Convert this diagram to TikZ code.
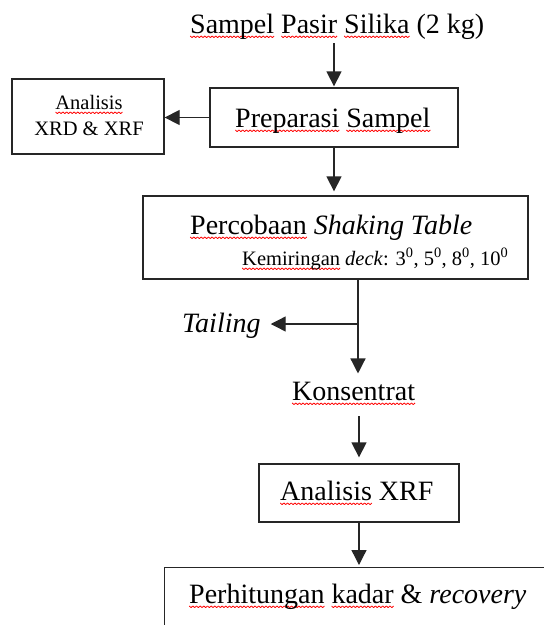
\documentclass[tikz,border=0pt]{standalone}
\usepackage{fontspec}
\setmainfont{Liberation Serif}
\usetikzlibrary{arrows.meta}
\newsavebox\sqbox
\AtBeginDocument{\sbox\sqbox{\begin{pgfpicture}%
\pgfpathrectangle{\pgfpointorigin}{\pgfpoint{3.6pt}{0pt}}\pgfusepath{use as bounding box}%
\pgfsetlinewidth{0.8pt}\pgfsetstrokecolor{red}\pgfsetroundjoin
\pgfpathmoveto{\pgfpointorigin}\pgfpathlineto{\pgfpoint{1.8pt}{-1.6pt}}\pgfpathlineto{\pgfpoint{3.6pt}{0pt}}\pgfusepath{stroke}%
\end{pgfpicture}}}
\newcommand\sqw[1]{\setbox0\hbox{#1}\rlap{\raisebox{-3pt}{\hbox to \wd0{\xleaders\copy\sqbox\hfil}}}\box0 }
\tikzset{
  big/.style={font=\fontsize{28}{32}\selectfont, inner sep=0pt, anchor=base west},
  small/.style={font=\fontsize{20.5}{24}\selectfont, inner sep=0pt},
  box/.style={draw=black!85, line width=1.3pt, inner sep=0pt},
  arr/.style={-{Triangle[width=15pt,length=15pt]}, line width=1.3pt, draw=black!85, fill=black!90},
  ln/.style={line width=1.3pt, draw=black!85}
}
\begin{document}
\begin{tikzpicture}[x=1pt,y=-1pt]
\useasboundingbox (0,0) rectangle (544,625);
\fill[white] (0,0) rectangle (544,625);
\clip (0,0) rectangle (544,625);
% texts
\node[big] (title) at (190,33) {\sqw{Sampel} \sqw{Pasir} \sqw{Silika} (2 kg)};
% boxes
\node[box, minimum width=248pt, minimum height=59pt] (prep) at (334,117.5) {};
\node[big] (prept) at (235,127) {\sqw{Preparasi} \sqw{Sampel}};
\node[box, minimum width=152pt, minimum height=75pt] (xrd) at (88,116.5) {};
\node[small, anchor=base] (xrdt1) at (89,109) {\sqw{Analisis}};
\node[small, anchor=base] (xrdt2) at (89,135) {XRD \& XRF};
\node[box, minimum width=385pt, minimum height=83pt] (perc) at (335.5,237.5) {};
\node[big] (perct1) at (190,234) {\sqw{Percobaan} \textit{Shaking Table}};
\node[small, anchor=base west] (perct2) at (242,265) {\sqw{Kemiringan} \textit{deck}: 3\textsuperscript{0}, 5\textsuperscript{0}, 8\textsuperscript{0}, 10\textsuperscript{0}};
\node[big] (tail) at (182,332) {\textit{Tailing}};
\node[big] (konst) at (292,400) {\sqw{Konsentrat}};
\node[box, minimum width=200pt, minimum height=58pt] (xrf) at (359,493) {};
\node[big] (xrft) at (280,500) {\sqw{Analisis} XRF};
\node[box, minimum width=420pt, minimum height=100pt, anchor=north west] (perh) at (164,567) {};
\node[big] (perht) at (189,603) {\sqw{Perhitungan} \sqw{kadar} \& \textit{recovery}};
% connectors
\coordinate (t0) at (334,43);
\draw[arr, shorten >=1pt] (t0) -- (prep.north);
\draw[arr] (prep.west) -- (prep.west -| xrd.east);
\draw[arr, shorten >=4pt] (prep.south) -- (prep.south |- perc.north);
\coordinate (split) at (358,324);
\draw[ln] (split |- perc.south) -- (split);
\draw[arr, shorten >=10pt] (split) -- (split -| tail.east);
\draw[arr, shorten >=8pt] (split) -- (split |- konst.north);
\draw[arr, shorten <=13pt, shorten >=6pt] (konst.south -| xrf.north) -- (xrf.north);
\draw[arr, shorten >=2pt] (xrf.south) -- (xrf.south |- perh.north);
\end{tikzpicture}
\end{document}
